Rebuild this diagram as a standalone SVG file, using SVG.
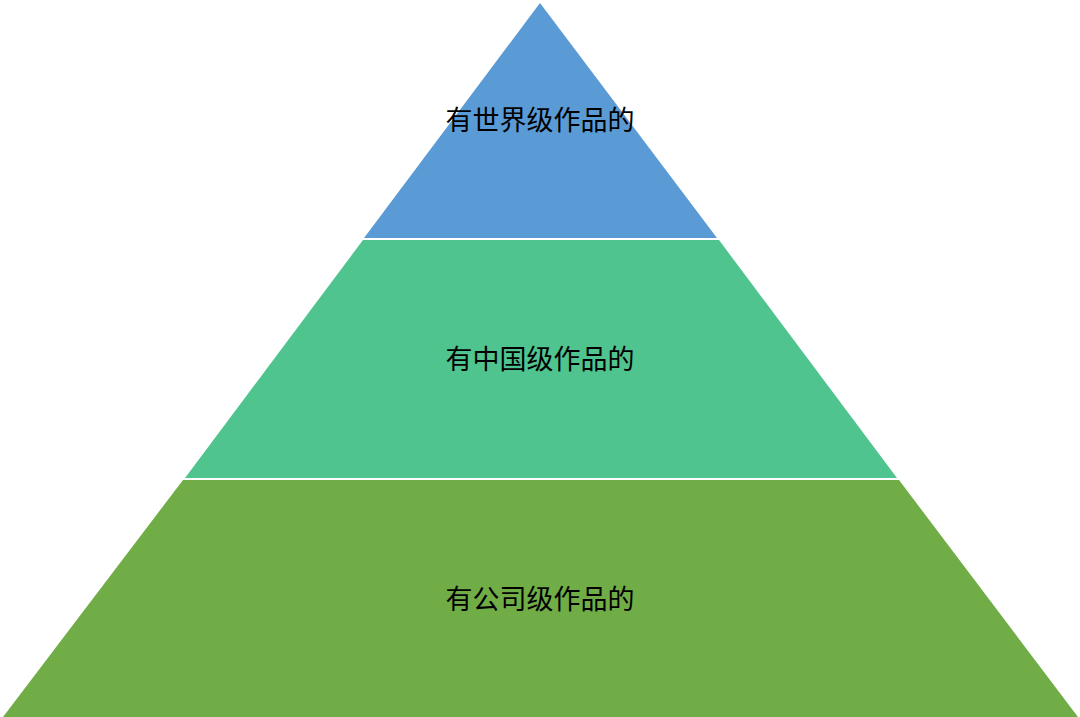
<svg xmlns="http://www.w3.org/2000/svg" width="1080" height="717" viewBox="0 0 1080 717">
<style>
.lbl{font-family:"Noto Sans CJK SC","Liberation Sans",sans-serif;font-size:27px;fill:#000;text-anchor:middle;dominant-baseline:central}
</style>
<rect width="1080" height="717" fill="#fff"/>
<g id="tier-top">
<polygon points="540,3 717,238 364,238" fill="#5B9BD5"/>
<text class="lbl" x="540" y="118">有世界级作品的</text>
</g>
<g id="tier-middle">
<polygon points="363,240 719,240 897,478 185,478" fill="#4FC48F"/>
<text class="lbl" x="540" y="357">有中国级作品的</text>
</g>
<g id="tier-bottom">
<polygon points="183,480 899,480 1078,717 3,717" fill="#70AD47"/>
<text class="lbl" x="540" y="597">有公司级作品的</text>
</g>
</svg>
